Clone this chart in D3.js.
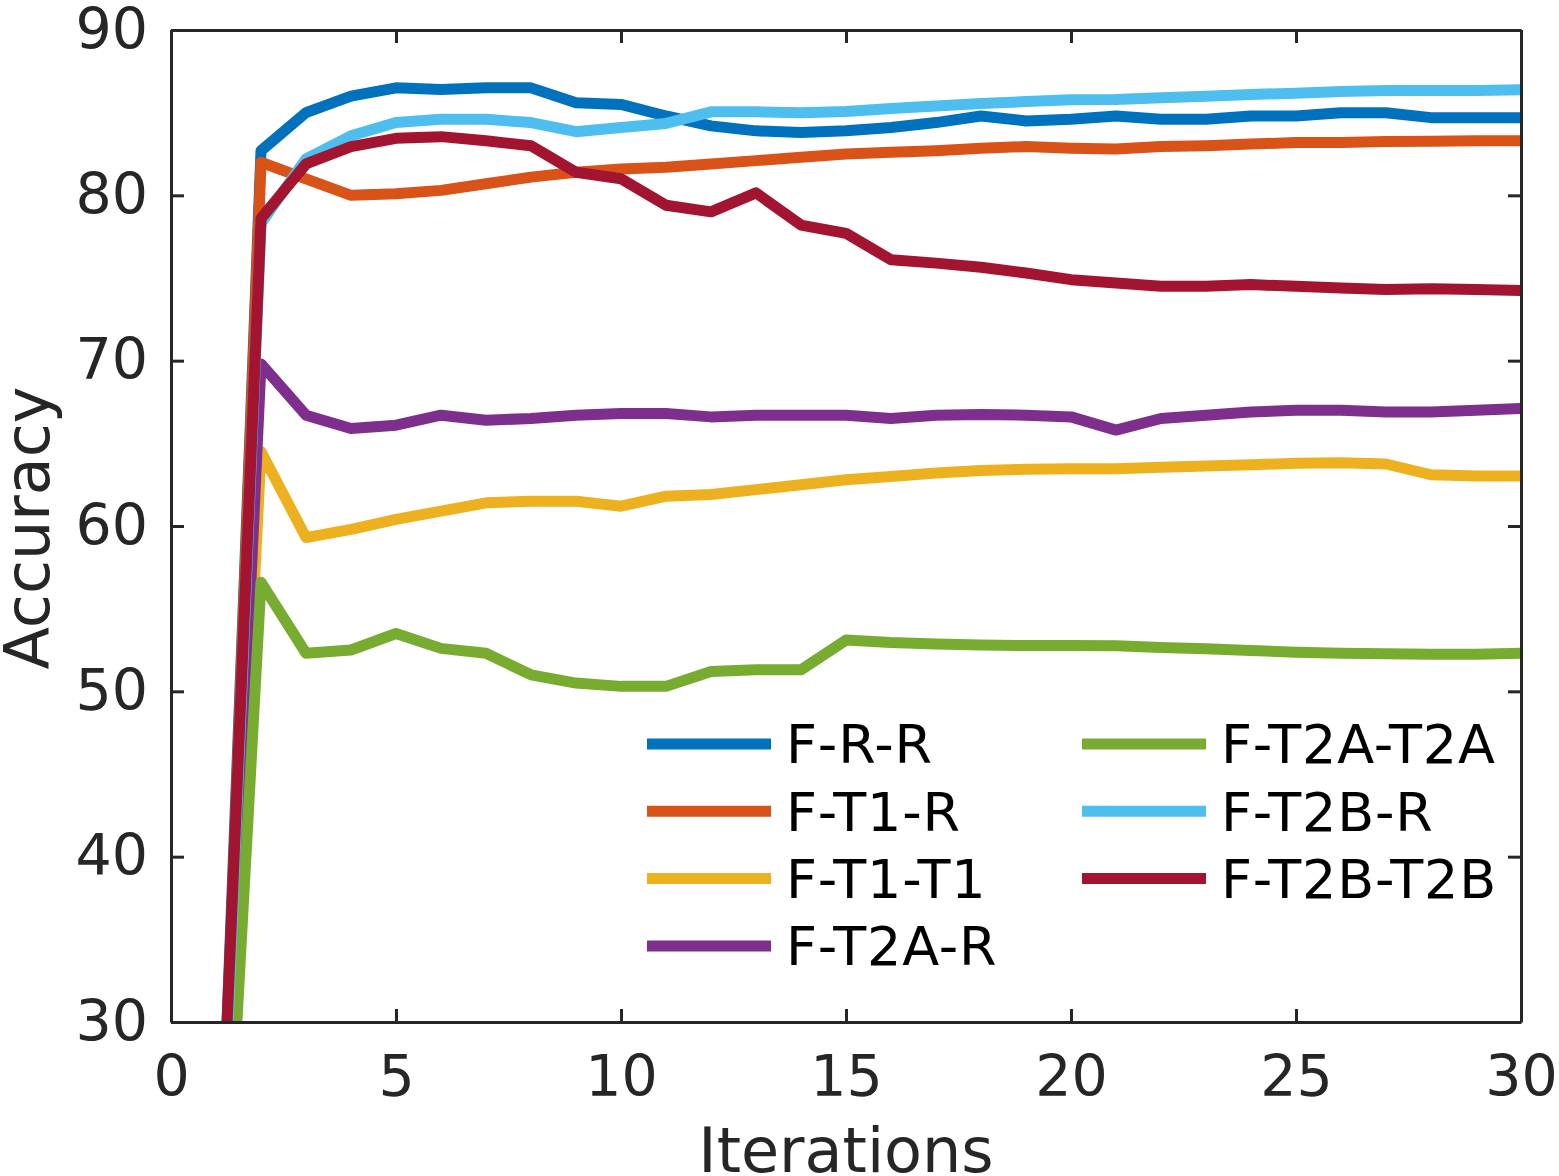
<!DOCTYPE html>
<html lang="en">
    <head>
        <meta charset="utf-8" />
        <title>Accuracy vs Iterations</title>
        <style>
            body { margin: 0; background: #fff; }
            svg text { font-family: "DejaVu Sans", sans-serif; }
            .axis path, .axis line { stroke: #262626; stroke-width: 3; }
            .axis text { fill: #262626; font-size: 57px; }
            .label { fill: #262626; font-size: 62px; }
            .legend text { fill: #000; font-size: 54px; letter-spacing: 0.8px; }
        </style>
        <script src="https://cdn.jsdelivr.net/npm/d3@7/dist/d3.min.js"></script>
    </head>
    <body>
        <script>
            // values, iteration 1..30
            var iterations = d3.range(1, 31);

            var names = ['F-R-R', 'F-T1-R', 'F-T1-T1', 'F-T2A-R', 'F-T2A-T2A', 'F-T2B-R', 'F-T2B-T2B'];
            var colors = ['#0072BD', '#D95319', '#EDB120', '#7E2F8E', '#77AC30', '#4DBEEE', '#A2142F'];

            var frr = [13, 82.7, 85.0, 86.0, 86.5, 86.4, 86.5, 86.5, 85.6, 85.5, 84.8, 84.2, 83.9, 83.8, 83.9,
                       84.1, 84.4, 84.8, 84.5, 84.6, 84.8, 84.6, 84.6, 84.8, 84.8, 85.0, 85.0, 84.7, 84.7, 84.7];
            var ft1r = [12, 82.0, 81.0, 80.0, 80.1, 80.3, 80.7, 81.1, 81.4, 81.6, 81.7, 81.9, 82.1, 82.3, 82.5,
                        82.6, 82.7, 82.85, 82.95, 82.85, 82.8, 82.95, 83.0, 83.1, 83.2, 83.2, 83.25, 83.27, 83.3, 83.3];
            var ft1t1 = [10, 64.5, 59.3, 59.8, 60.4, 60.9, 61.4, 61.5, 61.5, 61.2, 61.8, 61.9, 62.2, 62.5, 62.8,
                         63.0, 63.2, 63.35, 63.43, 63.47, 63.47, 63.55, 63.63, 63.7, 63.8, 63.83, 63.75, 63.1, 63.03, 63.03];
            var ft2ar = [11, 69.8, 66.7, 65.9, 66.1, 66.7, 66.4, 66.5, 66.7, 66.8, 66.8, 66.6, 66.7, 66.7, 66.7,
                         66.5, 66.7, 66.75, 66.7, 66.6, 65.8, 66.5, 66.7, 66.9, 67.0, 67.0, 66.9, 66.9, 67.0, 67.1];
            var ft2at2a = [7, 56.6, 52.3, 52.5, 53.5, 52.6, 52.3, 51.0, 50.5, 50.3, 50.3, 51.2, 51.3, 51.3, 53.1,
                           52.95, 52.87, 52.8, 52.77, 52.77, 52.75, 52.65, 52.57, 52.47, 52.36, 52.3, 52.27, 52.24, 52.25, 52.3];
            var ft2br = [12, 78.3, 82.2, 83.6, 84.4, 84.6, 84.6, 84.4, 83.85, 84.1, 84.35, 85.05, 85.05, 85.0, 85.07,
                         85.25, 85.4, 85.55, 85.67, 85.78, 85.8, 85.9, 86.0, 86.1, 86.18, 86.28, 86.34, 86.34, 86.34, 86.38];
            var ft2bt2b = [14, 78.6, 81.9, 82.95, 83.45, 83.55, 83.3, 83.0, 81.4, 81.0, 79.4, 79.0, 80.15, 78.2, 77.7,
                           76.1, 75.9, 75.65, 75.3, 74.9, 74.7, 74.5, 74.5, 74.6, 74.5, 74.4, 74.3, 74.35, 74.3, 74.25];

            var series = [frr, ft1r, ft1t1, ft2ar, ft2at2a, ft2br, ft2bt2b];

            var xTicks = [0, 5, 10, 15, 20, 25, 30];
            var yTicks = [30, 40, 50, 60, 70, 80, 90];

            var width = 1559,
                height = 1176,
                boxLeft = 171, boxRight = 1521,   // plot box edges
                boxTop = 30, boxBottom = 1022,
                tickLen = 13,
                lineWidth = 11;

            var x = d3.scaleLinear().domain([0, 30]).range([boxLeft, boxRight]);
            var y = d3.scaleLinear().domain([30, 90]).range([boxBottom, boxTop]);

            var svg = d3.select('body')
                        .append('svg')
                        .attr('width', width)
                        .attr('height', height);

            svg.append('defs').append('clipPath')
                .attr('id', 'plotclip')
                .append('rect')
                .attr('x', boxLeft).attr('y', boxTop)
                .attr('width', boxRight - boxLeft).attr('height', boxBottom - boxTop);

            var line = d3.line()
                        .x(function(d, i) { return x(iterations[i]); })
                        .y(function(d) { return y(d); });

            svg.append('g')
                .attr('clip-path', 'url(#plotclip)')
                .selectAll('path')
                .data(series)
                .enter()
                .append('path')
                .attr('d', line)
                .attr('fill', 'none')
                .attr('stroke', function(d, i) { return colors[i]; })
                .attr('stroke-width', lineWidth)
                .attr('stroke-linejoin', 'round');

            // axes: ticks point inwards, mirrored on top and right
            svg.append('g')
                .attr('class', 'axis')
                .attr('transform', 'translate(0,' + boxBottom + ')')
                .call(d3.axisBottom(x).tickValues(xTicks).tickSizeInner(-tickLen).tickSizeOuter(0).tickPadding(34));

            svg.append('g')
                .attr('class', 'axis')
                .attr('transform', 'translate(0,' + boxTop + ')')
                .call(d3.axisTop(x).tickValues(xTicks).tickSizeInner(-tickLen).tickSizeOuter(0).tickFormat(''));

            svg.append('g')
                .attr('class', 'axis')
                .attr('transform', 'translate(' + boxLeft + ',0)')
                .call(d3.axisLeft(y).tickValues(yTicks).tickSizeInner(-tickLen).tickSizeOuter(0).tickPadding(23));

            svg.append('g')
                .attr('class', 'axis')
                .attr('transform', 'translate(' + boxRight + ',0)')
                .call(d3.axisRight(y).tickValues(yTicks).tickSizeInner(-tickLen).tickSizeOuter(0).tickFormat(''));

            svg.selectAll('.axis').attr('font-family', null).attr('font-size', null);

            // axis titles
            svg.append('text')
                .attr('class', 'label')
                .attr('x', (boxLeft + boxRight) / 2)
                .attr('y', 1172)
                .attr('text-anchor', 'middle')
                .text('Iterations');

            svg.append('text')
                .attr('class', 'label')
                .attr('transform', 'translate(49,' + ((boxTop + boxBottom) / 2 + 2) + ') rotate(-90)')
                .attr('text-anchor', 'middle')
                .text('Accuracy');

            // legend, 4 rows per column
            var legend = svg.append('g')
                            .attr('class', 'legend')
                            .selectAll('g')
                            .data(names)
                            .enter()
                            .append('g')
                            .attr('transform', function(d, i) {
                                return 'translate(' + (647 + Math.floor(i / 4) * 435) + ',' + (744 + (i % 4) * 67.3) + ')';
                            });

            legend.append('line')
                .attr('x1', 0).attr('x2', 124)
                .attr('stroke', function(d, i) { return colors[i]; })
                .attr('stroke-width', lineWidth);

            legend.append('text')
                .attr('x', 139)
                .attr('dy', '0.36em')
                .text(function(d) { return d; });
        </script>
    </body>
</html>
